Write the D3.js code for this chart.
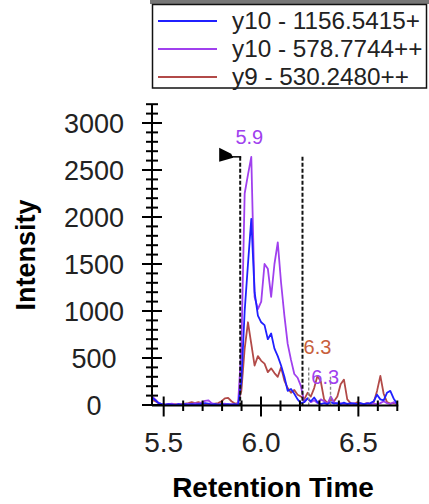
<!DOCTYPE html>
<html>
<head>
<meta charset="utf-8">
<script src="https://cdn.jsdelivr.net/npm/d3@7"></script>
<style>
  html, body { margin: 0; padding: 0; background: #fff; }
  svg { display: block; font-family: "Liberation Sans", Arial, sans-serif; }
</style>
</head>
<body>
<svg id="chart" width="429" height="504"></svg>
<script>
// Retention times (min) of the chromatogram scans
const times = [
  5.440, 5.457, 5.474, 5.491, 5.508, 5.525, 5.542, 5.559, 5.576, 5.593,
  5.610, 5.627, 5.644, 5.661, 5.678, 5.695, 5.712, 5.729, 5.746, 5.763,
  5.780, 5.797, 5.814, 5.831, 5.848, 5.865, 5.882, 5.899, 5.916, 5.933,
  5.950, 5.967, 5.984, 6.001, 6.018, 6.035, 6.052, 6.069, 6.086, 6.103,
  6.120, 6.137, 6.154, 6.171, 6.188, 6.205, 6.222, 6.239, 6.256, 6.273,
  6.290, 6.307, 6.324, 6.341, 6.358, 6.375, 6.392, 6.409, 6.426, 6.443,
  6.460, 6.477, 6.494, 6.511, 6.528, 6.545, 6.562, 6.579, 6.596, 6.613,
  6.630, 6.647, 6.664, 6.681, 6.698
];

// Transition intensities
const y10Plus = [
  80, 50, 20, 10, 5, 10, 5, 0, 10, 5,
  10, 5, 10, 5, 10, 10, 20, 15, 5, 10,
  5, 10, 5, 10, 5, 10, 0, 250, 1000, 1500,
  1980, 1200, 950, 880, 850, 700, 760, 600, 520, 420,
  300, 150, 170, 120, 60, 20, 30, 70, 40, 80,
  30, 10, 20, 10, 30, 15, 20, 10, 25, 10,
  20, 15, 10, 20, 10, 15, 20, 40, 110, 60,
  50, 130, 150, 70, 15
];
const y10PlusPlus = [
  90, 60, 20, 10, 5, 10, 15, 5, 10, 5,
  10, 15, 10, 20, 15, 25, 45, 50, 20, 10,
  5, 10, 15, 5, 10, 5, 10, 600, 2250, 2450,
  2640, 1150, 1020, 1100, 1500, 1450, 1150, 1500, 1730, 1300,
  950, 650, 480, 330, 290, 200, 30, 70, 30, 50,
  20, 60, 40, 10, 90, 30, 10, 20, 10, 15,
  10, 20, 10, 15, 10, 20, 10, 15, 10, 20,
  40, 20, 10, 30, 10
];
const y9PlusPlus = [
  50, 40, 20, 10, 5, 10, 5, 10, 5, 10,
  15, 20, 30, 20, 30, 20, 10, 5, 10, 15,
  20, 40, 70, 75, 40, 15, 20, 150, 600, 880,
  650, 420, 520, 470, 440, 350, 390, 340, 300, 400,
  260, 180, 130, 160, 110, 90, 60, 130, 90, 180,
  310, 250, 60, 20, 60, 40, 90, 220, 270, 60,
  20, 10, 30, 15, 10, 20, 10, 30, 150, 310,
  120, 30, 15, 20, 10
];

const seriesNames = ["y10 - 1156.5415+", "y10 - 578.7744++", "y9 - 530.2480++"];
const seriesValues = [y10Plus, y10PlusPlus, y9PlusPlus];
const seriesColors = ["#2020ff", "#a040ee", "#b24a48"];

// Axis ticks
const xMajorTicks = [5.5, 6.0, 6.5];
const xMinorTicks = [5.6, 5.7, 5.8, 5.9, 6.1, 6.2, 6.3, 6.4, 6.6, 6.7];
const yMajorTicks = [0, 500, 1000, 1500, 2000, 2500, 3000];
const yMinorStep = 100;

// Integration boundaries of the chosen peak
const peakStart = 5.893;
const peakEnd = 6.213;
const peakBoundaryTop = 2640;

// Retention-time annotations: time, apex intensity
const annotTimes = [5.94, 6.29, 6.33];
const annotApex = [2640, 320, 90];
const annotColors = ["#a040ee", "#c8603c", "#a040ee"];

// Secondary peak boundaries (grey)
const minorBoundTimes = [6.245, 6.357];
const minorBoundTops = [400, 300];

const svg = d3.select("#chart");
const plot = { left: 152, right: 397.3, top: 104.2, bottom: 405 };

const x = d3.scaleLinear().domain([5.44, 6.70]).range([plot.left, plot.right]);
const y = d3.scaleLinear().domain([0, 3200]).range([plot.bottom, plot.top]);

// Clip for traces
svg.append("defs").append("clipPath").attr("id", "plotClip")
  .append("rect")
  .attr("x", plot.left).attr("y", plot.top - 2)
  .attr("width", plot.right - plot.left + 1).attr("height", plot.bottom - plot.top + 2);

// Traces (last legend entry drawn first)
const line = d3.line().x((d, i) => x(times[i])).y(d => y(d));
const traces = svg.append("g").attr("clip-path", "url(#plotClip)");
[2, 1, 0].forEach(s => {
  traces.append("path")
    .datum(seriesValues[s])
    .attr("d", line)
    .attr("fill", "none")
    .attr("stroke", seriesColors[s])
    .attr("stroke-width", 1.8)
    .attr("stroke-linejoin", "round");
});

// Peak boundaries
const bounds = svg.append("g");
[peakStart, peakEnd].forEach(t => {
  bounds.append("line")
    .attr("x1", x(t)).attr("x2", x(t))
    .attr("y1", y(peakBoundaryTop)).attr("y2", y(0))
    .attr("stroke", "#111").attr("stroke-width", 2)
    .attr("stroke-dasharray", "4,2");
});
minorBoundTimes.forEach((t, i) => {
  bounds.append("line")
    .attr("x1", x(t)).attr("x2", x(t))
    .attr("y1", y(minorBoundTops[i])).attr("y2", y(0))
    .attr("stroke", "#888").attr("stroke-width", 1.4)
    .attr("stroke-dasharray", "3,2");
});

// Flag marking the chosen peak
const fx = x(peakStart), fy = y(peakBoundaryTop);
bounds.append("path")
  .attr("d", `M${fx - 21},${fy - 9} L${fx - 21},${fy + 5} L${fx - 7},${fy + 1} L${fx - 9},${fy - 3} Z`)
  .attr("fill", "#000");
bounds.append("line")
  .attr("x1", fx - 10).attr("x2", fx + 1)
  .attr("y1", fy).attr("y2", fy)
  .attr("stroke", "#000").attr("stroke-width", 1.5);

// Retention-time labels
annotTimes.forEach((t, i) => {
  svg.append("text")
    .attr("x", x(t)).attr("y", y(annotApex[i]) - (i === 1 ? 21 : 13))
    .attr("text-anchor", "middle")
    .attr("font-size", 20)
    .attr("fill", annotColors[i])
    .text(t.toFixed(1));
});

// Axes
const axes = svg.append("g").attr("stroke", "#000");
axes.append("line")
  .attr("x1", plot.left).attr("x2", plot.left)
  .attr("y1", plot.top).attr("y2", plot.bottom + 1)
  .attr("stroke-width", 2);
axes.append("line")
  .attr("x1", plot.left).attr("x2", plot.right + 1)
  .attr("y1", plot.bottom + 0.5).attr("y2", plot.bottom + 0.5)
  .attr("stroke-width", 2);

// Y ticks
const yMinor = d3.range(0, 3200 + 1, yMinorStep).filter(v => v % 500 !== 0);
yMinor.forEach(v => {
  axes.append("line").attr("x1", plot.left - 6).attr("x2", plot.left + 6)
    .attr("y1", y(v)).attr("y2", y(v)).attr("stroke-width", 2);
});
yMajorTicks.forEach(v => {
  axes.append("line").attr("x1", plot.left - 10).attr("x2", plot.left + 10)
    .attr("y1", y(v)).attr("y2", y(v)).attr("stroke-width", 2);
  svg.append("text")
    .attr("x", 94).attr("y", y(v))
    .attr("dy", "0.36em")
    .attr("text-anchor", "middle")
    .attr("font-size", 27)
    .attr("fill", "#222")
    .text(v);
});

// X ticks
xMinorTicks.forEach(v => {
  axes.append("line").attr("x1", x(v)).attr("x2", x(v))
    .attr("y1", plot.bottom - 4.5).attr("y2", plot.bottom + 6).attr("stroke-width", 2);
});
xMajorTicks.forEach(v => {
  axes.append("line").attr("x1", x(v)).attr("x2", x(v))
    .attr("y1", plot.bottom - 8.5).attr("y2", plot.bottom + 11.5).attr("stroke-width", 2);
  svg.append("text")
    .attr("x", x(v)).attr("y", 451.5)
    .attr("text-anchor", "middle")
    .attr("font-size", 28)
    .attr("fill", "#222")
    .text(v.toFixed(1));
});

// Axis titles
svg.append("text")
  .attr("transform", "translate(35,255) rotate(-90)")
  .attr("text-anchor", "middle")
  .attr("font-size", 27)
  .attr("font-weight", "bold")
  .attr("fill", "#000")
  .text("Intensity");
svg.append("text")
  .attr("x", 273).attr("y", 496.5)
  .attr("text-anchor", "middle")
  .attr("font-size", 28)
  .attr("font-weight", "bold")
  .attr("fill", "#000")
  .text("Retention Time");

// Legend
const legend = svg.append("g");
legend.append("rect")
  .attr("x", 150).attr("y", 0).attr("width", 279).attr("height", 4)
  .attr("fill", "#777");
legend.append("rect")
  .attr("x", 152.5).attr("y", 4.5).attr("width", 274).attr("height", 83.5)
  .attr("fill", "#fff").attr("stroke", "#111").attr("stroke-width", 1.5);
seriesNames.forEach((name, i) => {
  const cy = 21 + i * 28;
  legend.append("line")
    .attr("x1", 158).attr("x2", 217).attr("y1", cy).attr("y2", cy)
    .attr("stroke", seriesColors[i]).attr("stroke-width", 2);
  legend.append("text")
    .attr("x", 232).attr("y", cy + 8)
    .attr("font-size", 24.3)
    .attr("fill", "#222")
    .text(name);
});
</script>
</body>
</html>
